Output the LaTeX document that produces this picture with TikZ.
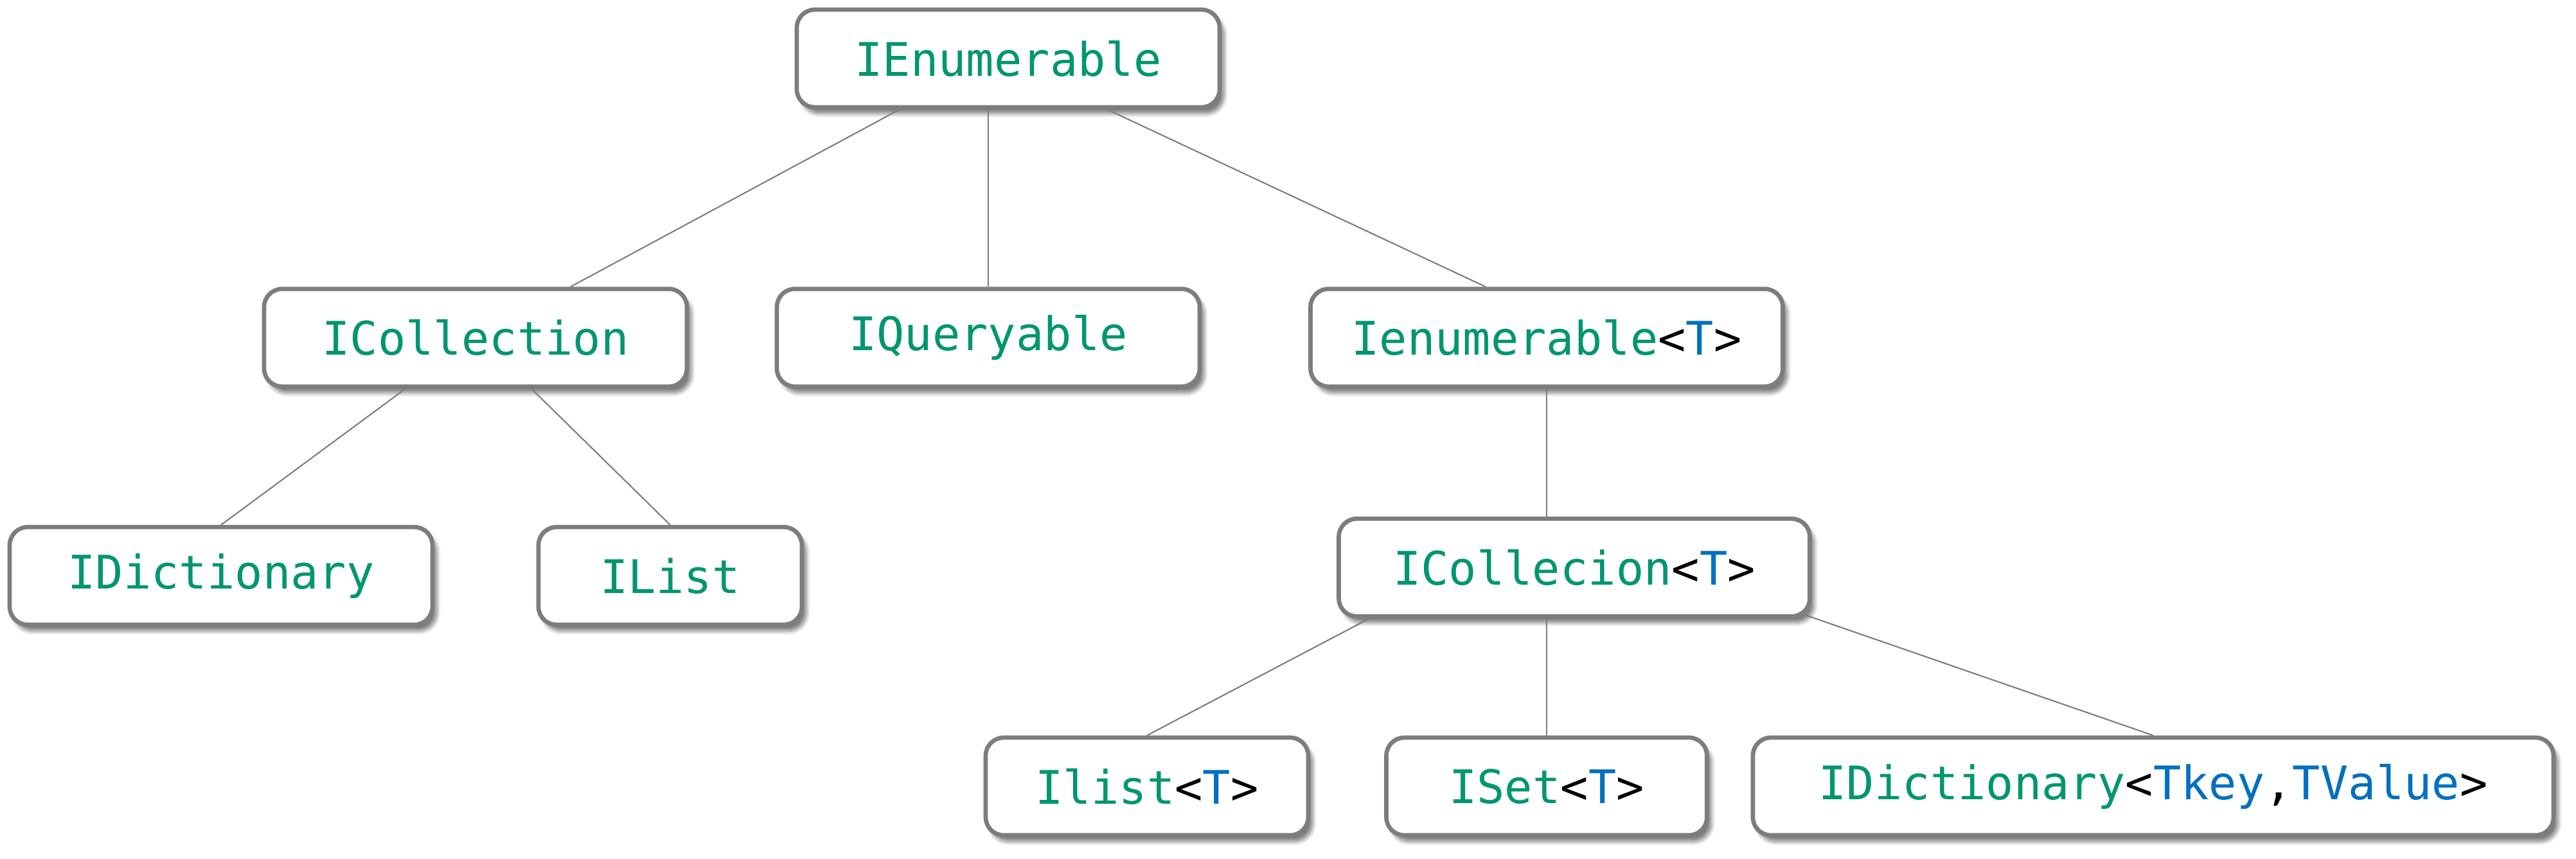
\documentclass[tikz,border=0pt]{standalone}
\usepackage{fontspec}
\setmonofont{DejaVu Sans Mono}
\usetikzlibrary{shadows, shadows.blur, positioning, calc}

\definecolor{ifacegreen}{RGB}{0,150,112}
\definecolor{parblue}{RGB}{0,112,192}
\definecolor{boxgray}{RGB}{125,125,125}
\newcommand{\tparam}[1]{\textcolor{parblue}{#1}}
\newcommand{\generic}[2]{#1\textcolor{black}{<}#2\textcolor{black}{>}}

\begin{document}
\begin{tikzpicture}[
        font=\ttfamily\fontsize{20.5}{24}\selectfont,
        % Styles
        iface/.style={draw=boxgray, fill=white, line width=1.9pt, rounded corners=8pt, minimum height=1.52cm, minimum width=#1, text=ifacegreen, inner sep=0pt, blur shadow={shadow xshift=0.07cm, shadow yshift=-0.1cm, shadow blur steps=8, shadow opacity=50}},
        iface/.default=6.58cm,
        link/.style={draw=boxgray, line width=0.6pt}
    ]
    \useasboundingbox (0,0) rectangle (40.09,-13.37);

    % Level 1
    \node[iface] (enum) at (15.69,-0.91) {IEnumerable};

    % Level 2
    \node[iface, below=2.76cm of enum, xshift=-8.29cm] (coll) {ICollection};
    \node[iface, below=2.76cm of enum, xshift=-0.31cm] (query) {IQueryable};
    \node[iface=7.35cm, below=2.76cm of enum, xshift=8.38cm] (enumT) {\generic{Ienumerable}{\tparam{T}}};
    \draw[link] ([xshift=-1.69cm]enum.south) -- ([xshift=1.48cm]coll.north);
    \draw[link] (query.north) -- (query.north |- enum.south);
    \draw[link] ([xshift=1.54cm]enum.south) -- ([xshift=-0.95cm]enumT.north);

    % Level 3
    \node[iface, below=2.12cm of coll, xshift=-3.96cm] (dict) {IDictionary};
    \node[iface=4.10cm, below=2.12cm of coll, xshift=3.03cm] (list) {IList};
    \node[iface=7.33cm, below=1.99cm of enumT, xshift=0.43cm] (collT) {\generic{ICollecion}{\tparam{T}}};
    \draw[link] ([xshift=-1.09cm]coll.south) -- (dict.north);
    \draw[link] ([xshift=0.87cm]coll.south) -- (list.north);
    \draw[link] (enumT.south) -- (enumT.south |- collT.north);

    % Level 4
    \node[iface=5.02cm, below=1.82cm of collT, xshift=-6.65cm] (listT) {\generic{Ilist}{\tparam{T}}};
    \node[iface=4.99cm, below=1.82cm of collT, xshift=-0.43cm] (setT) {\generic{ISet}{\tparam{T}}};
    \node[iface=12.46cm, below=1.82cm of collT, xshift=9.01cm] (dictT) {\generic{IDictionary}{\tparam{Tkey}\textcolor{black}{,}\tparam{TValue}}};
    \draw[link] ([xshift=-3.19cm]collT.south) -- (listT.north);
    \draw[link] (setT.north) -- (setT.north |- collT.south);
    \draw[link] ([xshift=-0.12cm, yshift=0.06cm]collT.south east) -- (dictT.north);

\end{tikzpicture}
\end{document}
